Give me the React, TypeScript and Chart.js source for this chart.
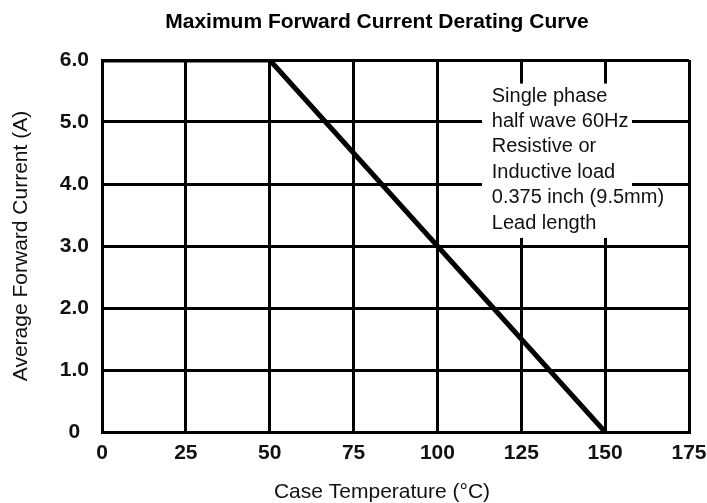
import React, { useEffect, useRef } from "react";
import { Chart, registerables } from "chart.js";

Chart.register(...registerables);

const temperatures = [0, 50, 150];
const currents = [6, 6, 0];
const xTickValues = [0, 25, 50, 75, 100, 125, 150, 175];
const yTickLabels = ["0", "1.0", "2.0", "3.0", "4.0", "5.0", "6.0"];
const noteLines = [
  "Single phase",
  "half wave 60Hz",
  "Resistive or",
  "Inductive load",
  "0.375 inch (9.5mm)",
  "Lead length",
];
const chartTitle = "Maximum Forward Current Derating Curve";
const xTitle = "Case Temperature (°C)";
const yTitle = "Average Forward Current (A)";

const FONT = "'Liberation Sans', Arial, sans-serif";

const overlayPlugin = {
  id: "overlayText",
  afterDraw(chart: any) {
    const ctx = chart.ctx as CanvasRenderingContext2D;
    const xs = chart.scales.x;
    const ys = chart.scales.y;
    ctx.save();
    // note box
    const bx0 = xs.getPixelForValue(113.3);
    const bx1 = xs.getPixelForValue(158);
    const by0 = ys.getPixelForValue(5.62);
    const by1 = ys.getPixelForValue(3.13);
    ctx.fillStyle = "#ffffff";
    ctx.fillRect(bx0, by0, bx1 - bx0, by1 - by0);
    ctx.fillStyle = "#111111";
    ctx.font = `20px ${FONT}`;
    ctx.textAlign = "left";
    ctx.textBaseline = "middle";
    const tx = xs.getPixelForValue(116.2);
    noteLines.forEach((line, i) => {
      ctx.fillText(line, tx, 96 + i * 25.4);
    });
    // titles
    ctx.font = `bold 21px ${FONT}`;
    ctx.textAlign = "center";
    ctx.fillStyle = "#000000";
    ctx.fillText(chartTitle, 377, 22);
    ctx.font = `21px ${FONT}`;
    ctx.fillStyle = "#111111";
    ctx.fillText(xTitle, 382, 492);
    ctx.translate(21, (chart.chartArea.top + chart.chartArea.bottom) / 2);
    ctx.rotate(-Math.PI / 2);
    ctx.fillText(yTitle, 0, 0);
    ctx.restore();
  },
};

export default function App() {
  const canvasRef = useRef<HTMLCanvasElement | null>(null);

  useEffect(() => {
    if (!canvasRef.current) return;
    const chart = new Chart(canvasRef.current, {
      type: "line",
      data: {
        datasets: [
          {
            data: temperatures.map((t, i) => ({ x: t, y: currents[i] })),
            borderColor: "#000000",
            borderWidth: 5,
            pointRadius: 0,
            tension: 0,
            fill: false,
          },
        ],
      },
      options: {
        responsive: false,
        animation: false,
        layout: { padding: { top: 60, left: 0, right: 18, bottom: 0 } },
        plugins: {
          legend: { display: false },
          title: { display: false },
          tooltip: { enabled: false },
        },
        scales: {
          x: {
            type: "linear",
            min: 0,
            max: 175,
            afterBuildTicks: (scale: any) => {
              scale.ticks = xTickValues.map((v) => ({ value: v }));
            },
            afterFit: (scale: any) => {
              scale.height = 71;
              scale.paddingLeft = 0;
              scale.paddingRight = 0;
            },
            ticks: {
              padding: 9,
              color: "#111111",
              font: { family: FONT, size: 21, weight: "bold" },
              maxRotation: 0,
              autoSkip: false,
            },
            grid: { color: "#000000", lineWidth: 3, drawTicks: false },
            border: { display: true, color: "#000000", width: 3 },
          },
          y: {
            type: "linear",
            min: 0,
            max: 6,
            afterBuildTicks: (scale: any) => {
              scale.ticks = yTickLabels.map((_, i) => ({ value: i }));
            },
            afterFit: (scale: any) => {
              scale.width = 102;
              scale.paddingTop = 0;
              scale.paddingBottom = 0;
            },
            ticks: {
              padding: 13,
              crossAlign: "center",
              color: "#111111",
              font: { family: FONT, size: 21, weight: "bold" },
              autoSkip: false,
              callback: (value: any) => yTickLabels[Math.round(Number(value))] ?? "",
            },
            grid: { color: "#000000", lineWidth: 3, drawTicks: false },
            border: { display: true, color: "#000000", width: 3 },
          },
        },
      },
      plugins: [overlayPlugin],
    });
    return () => chart.destroy();
  }, []);

  return (
    <div style={{ position: "fixed", left: 0, top: 0, width: 707, height: 503, background: "#ffffff" }}>
      <canvas ref={canvasRef} width={707} height={503} />
    </div>
  );
}
